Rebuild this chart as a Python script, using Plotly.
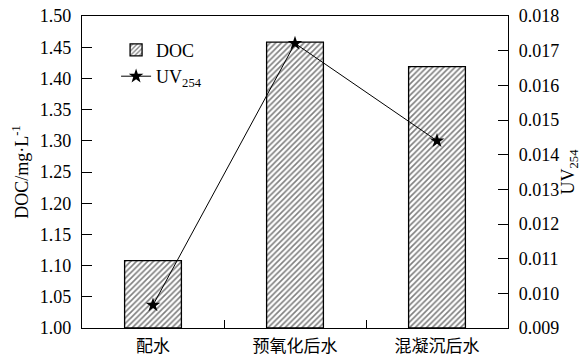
import plotly.graph_objects as go

# Water samples and measured values
categories = ["配水", "预氧化后水", "混凝沉后水"]
doc_values = [1.108, 1.458, 1.419]      # DOC, mg/L
uv254_values = [0.00966, 0.01721, 0.01440]

doc_ticks = [1.00, 1.05, 1.10, 1.15, 1.20, 1.25, 1.30, 1.35, 1.40, 1.45, 1.50]
uv_ticks = [0.009, 0.010, 0.011, 0.012, 0.013, 0.014, 0.015, 0.016, 0.017, 0.018]

serif = "Liberation Serif, Times New Roman, serif"
cjk = "Noto Sans CJK SC"

fig = go.Figure()

fig.add_trace(go.Bar(
    x=categories, y=[v - 1.0 for v in doc_values], base=1.0,
    name="DOC", width=0.4,
    marker=dict(
        color="white",
        line=dict(color="black", width=1.3),
        pattern=dict(shape="/", fgcolor="black", bgcolor="white",
                     size=4, solidity=0.4),
    ),
))

fig.add_trace(go.Scatter(
    x=categories, y=uv254_values, yaxis="y2",
    name="UV<sub>254</sub>", mode="lines+markers",
    line=dict(color="black", width=1),
    marker=dict(symbol="star", size=11, color="black"),
))

axis_line = dict(showline=True, linecolor="black", linewidth=1.3)

fig.update_layout(
    width=581, height=357,
    margin=dict(l=82, r=73, t=16, b=29),
    plot_bgcolor="white", paper_bgcolor="white",
    showlegend=True,
    legend=dict(x=0.08, y=0.95, xanchor="left", yanchor="top",
                bgcolor="rgba(0,0,0,0)", font=dict(family=serif, size=18, color="black"),
                tracegroupgap=0, itemwidth=30),
    xaxis=dict(
        **axis_line, mirror=True, automargin=False,
        type="category", range=[-0.5, 2.5],
        tickson="boundaries", ticks="inside", ticklen=8, tickcolor="black",
        tickfont=dict(family=cjk, size=17, color="black"),
        ticklabelstandoff=2,
        showgrid=False, zeroline=False,
    ),
    yaxis=dict(
        **axis_line, automargin=False,
        range=[1.0, 1.5], tickvals=doc_ticks,
        ticktext=[f"{t:.2f}" for t in doc_ticks],
        ticks="inside", ticklen=10, tickcolor="black",
        tickfont=dict(family=serif, size=18, color="black"),
        ticklabelstandoff=6,
        title=dict(text="DOC/mg·L<sup>-1</sup>", standoff=6,
                   font=dict(family=serif, size=18, color="black")),
        showgrid=False, zeroline=False,
    ),
    yaxis2=dict(
        **axis_line, automargin=False,
        overlaying="y", side="right",
        range=[0.009, 0.018], tickvals=uv_ticks,
        ticktext=[f"{t:.3f}" for t in uv_ticks],
        ticks="inside", ticklen=10, tickcolor="black",
        tickfont=dict(family=serif, size=18, color="black"),
        ticklabelstandoff=6,
        title=dict(text="UV<sub>254</sub>", standoff=2,
                   font=dict(family=serif, size=18, color="black")),
        showgrid=False, zeroline=False,
    ),
)

fig.write_html("out.html")
